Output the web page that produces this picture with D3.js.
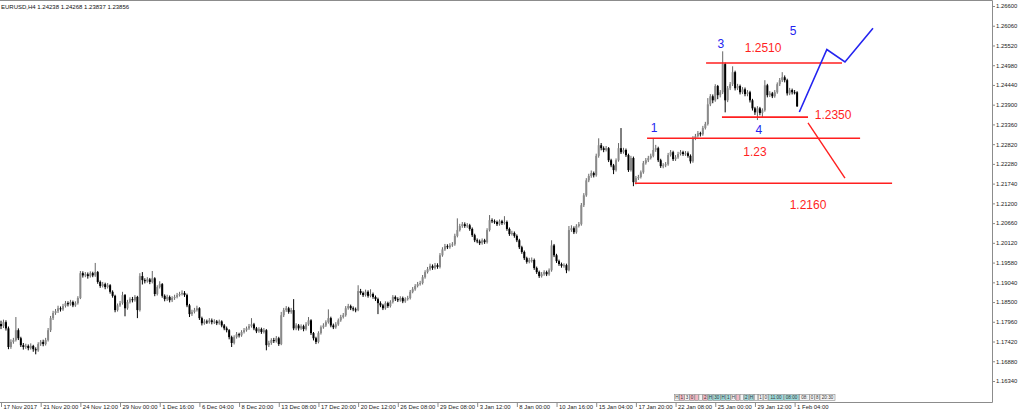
<!DOCTYPE html>
<html>
<head>
<meta charset="utf-8">
<script src="https://cdn.jsdelivr.net/npm/d3@7"></script>
<style>
  html, body { margin: 0; padding: 0; background: #fff; }
  svg { display: block; font-family: 'Liberation Sans', Arial, sans-serif; }
</style>
</head>
<body>
<div id="chart"></div>
<script>
// EURUSD H4 candles, 17 Nov 2017 04:00 .. 1 Feb 2018 08:00
var symbol = 'EURUSD,H4'
var lastQuote = [1.24238, 1.24268, 1.23837, 1.23856]
var firstOpen = 1.1790

var closes = [
  1.1784,1.1795,1.1778,1.1727,1.1741,1.1746,1.1773,1.1751,1.1732,1.1727,
  1.1730,1.1724,1.1730,1.1721,1.1718,1.1735,1.1741,1.1735,1.1746,1.1773,
  1.1806,1.1820,1.1825,1.1833,1.1830,1.1839,1.1847,1.1844,1.1850,1.1841,
  1.1847,1.1861,1.1929,1.1923,1.1926,1.1921,1.1929,1.1923,1.1932,1.1905,
  1.1894,1.1899,1.1891,1.1896,1.1878,1.1867,1.1828,1.1841,1.1847,1.1869,
  1.1833,1.1850,1.1858,1.1855,1.1864,1.1828,1.1921,1.1910,1.1907,1.1912,
  1.1905,1.1915,1.1872,1.1891,1.1899,1.1867,1.1858,1.1864,1.1855,1.1861,
  1.1864,1.1869,1.1872,1.1875,1.1869,1.1841,1.1817,1.1823,1.1828,1.1833,
  1.1806,1.1792,1.1797,1.1795,1.1800,1.1795,1.1797,1.1792,1.1797,1.1786,
  1.1778,1.1773,1.1754,1.1738,1.1754,1.1762,1.1759,1.1768,1.1773,1.1778,
  1.1784,1.1789,1.1778,1.1770,1.1776,1.1768,1.1773,1.1732,1.1738,1.1746,
  1.1743,1.1751,1.1735,1.1814,1.1828,1.1833,1.1823,1.1828,1.1778,1.1786,
  1.1778,1.1784,1.1776,1.1789,1.1800,1.1765,1.1751,1.1741,1.1765,1.1781,
  1.1786,1.1795,1.1806,1.1786,1.1781,1.1789,1.1800,1.1809,1.1814,1.1833,
  1.1839,1.1833,1.1830,1.1828,1.1880,1.1875,1.1869,1.1878,1.1867,1.1872,
  1.1864,1.1858,1.1847,1.1841,1.1833,1.1847,1.1839,1.1850,1.1864,1.1858,
  1.1855,1.1861,1.1852,1.1858,1.1861,1.1878,1.1885,1.1894,1.1899,1.1902,
  1.1918,1.1932,1.1940,1.1949,1.1943,1.1951,1.1946,1.1978,1.1994,1.2003,
  1.2000,1.2005,1.2008,1.2031,1.2047,1.2058,1.2063,1.2058,1.2060,1.2050,
  1.2033,1.2019,1.2016,1.2011,1.2019,1.2014,1.2047,1.2074,1.2071,1.2069,
  1.2063,1.2071,1.2066,1.2069,1.2050,1.2036,1.2039,1.2031,1.2019,1.2000,
  1.1987,1.1970,1.1960,1.1965,1.1965,1.1943,1.1932,1.1921,1.1926,1.1932,
  1.1926,1.1937,1.2005,1.1978,1.1962,1.1954,1.1949,1.1951,1.1937,1.2047,
  1.2052,1.2041,1.2058,1.2063,1.2115,1.2142,1.2183,1.2195,1.2203,1.2197,
  1.2250,1.2279,1.2271,1.2266,1.2271,1.2238,1.2224,1.2211,1.2238,1.2271,
  1.2260,1.2266,1.2252,1.2211,1.2244,1.2178,1.2189,1.2192,1.2205,1.2230,
  1.2238,1.2244,1.2250,1.2266,1.2271,1.2238,1.2222,1.2224,1.2227,1.2252,
  1.2260,1.2241,1.2246,1.2255,1.2260,1.2255,1.2257,1.2250,1.2235,1.2298,
  1.2304,1.2312,1.2309,1.2326,1.2337,1.2391,1.2413,1.2402,1.2441,1.2416,
  1.2424,1.2501,1.2402,1.2435,1.2446,1.2479,1.2435,1.2441,1.2424,1.2432,
  1.2419,1.2424,1.2402,1.2380,1.2369,1.2380,1.2367,1.2375,1.2443,1.2416,
  1.2421,1.2413,1.2424,1.2446,1.2457,1.2465,1.2457,1.2421,1.2430,1.2424,
  1.24238,1.23856
]

var highs = [
  1.1799,1.1802,1.1800,1.1783,1.1748,1.1752,1.1809,1.1778,1.1755,1.1738,
  1.1736,1.1734,1.1737,1.1733,1.1726,1.1740,1.1746,1.1747,1.1752,1.1779,
  1.1812,1.1826,1.1831,1.1840,1.1838,1.1845,1.1853,1.1852,1.1856,1.1854,
  1.1852,1.1866,1.1935,1.1934,1.1932,1.1931,1.1934,1.1933,1.1957,1.1935,
  1.1909,1.1905,1.1903,1.1902,1.1899,1.1882,1.1870,1.1846,1.1853,1.1878,
  1.1872,1.1856,1.1863,1.1864,1.1869,1.1867,1.1929,1.1932,1.1915,1.1918,
  1.1916,1.1935,1.1918,1.1896,1.1907,1.1902,1.1871,1.1870,1.1868,1.1866,
  1.1870,1.1875,1.1878,1.1882,1.1880,1.1873,1.1845,1.1829,1.1834,1.1840,
  1.1836,1.1810,1.1803,1.1802,1.1806,1.1805,1.1803,1.1801,1.1802,1.1800,
  1.1790,1.1783,1.1776,1.1758,1.1759,1.1768,1.1766,1.1773,1.1779,1.1783,
  1.1790,1.1806,1.1793,1.1782,1.1781,1.1780,1.1779,1.1776,1.1744,1.1751,
  1.1752,1.1757,1.1755,1.1823,1.1834,1.1839,1.1837,1.1834,1.1858,1.1792,
  1.1790,1.1789,1.1788,1.1795,1.1809,1.1803,1.1768,1.1755,1.1770,1.1786,
  1.1792,1.1800,1.1830,1.1810,1.1791,1.1795,1.1805,1.1815,1.1820,1.1839,
  1.1845,1.1843,1.1838,1.1835,1.1896,1.1886,1.1879,1.1884,1.1882,1.1885,
  1.1876,1.1868,1.1862,1.1852,1.1845,1.1852,1.1851,1.1855,1.1869,1.1868,
  1.1863,1.1866,1.1865,1.1863,1.1867,1.1883,1.1891,1.1899,1.1905,1.1908,
  1.1924,1.1937,1.1946,1.1955,1.1953,1.1957,1.1956,1.1984,1.2000,1.2009,
  1.2008,1.2011,1.2014,1.2037,1.2079,1.2064,1.2069,1.2068,1.2066,1.2064,
  1.2054,1.2037,1.2024,1.2021,1.2024,1.2023,1.2052,1.2088,1.2079,1.2076,
  1.2073,1.2076,1.2075,1.2085,1.2073,1.2054,1.2045,1.2043,1.2035,1.2023,
  1.2004,1.1991,1.1974,1.1971,1.1972,1.1969,1.1947,1.1936,1.1932,1.1937,
  1.1936,1.1942,1.2019,1.2009,1.1982,1.1966,1.1958,1.1956,1.1955,1.2058,
  1.2060,1.2057,1.2063,1.2069,1.2121,1.2148,1.2189,1.2201,1.2210,1.2207,
  1.2256,1.2298,1.2285,1.2276,1.2277,1.2274,1.2242,1.2228,1.2243,1.2285,
  1.2326,1.2272,1.2270,1.2256,1.2250,1.2248,1.2195,1.2198,1.2210,1.2236,
  1.2244,1.2250,1.2256,1.2298,1.2280,1.2275,1.2242,1.2230,1.2233,1.2258,
  1.2266,1.2264,1.2252,1.2261,1.2266,1.2264,1.2263,1.2262,1.2254,1.2304,
  1.2310,1.2318,1.2316,1.2332,1.2343,1.2408,1.2419,1.2418,1.2446,1.2444,
  1.2430,1.2536,1.2505,1.2441,1.2452,1.2495,1.2483,1.2447,1.2445,1.2438,
  1.2437,1.2430,1.2428,1.2406,1.2384,1.2386,1.2384,1.2380,1.2457,1.2447,
  1.2427,1.2425,1.2430,1.2451,1.2463,1.2479,1.2470,1.2461,1.2436,1.2434,
  1.2430,1.24268
]

var lows = [
  1.1776,1.1779,1.1772,1.1721,1.1722,1.1736,1.1742,1.1746,1.1727,1.1720,
  1.1722,1.1718,1.1720,1.1714,1.1707,1.1714,1.1730,1.1729,1.1731,1.1742,
  1.1768,1.1801,1.1815,1.1820,1.1824,1.1826,1.1835,1.1838,1.1840,1.1836,
  1.1837,1.1843,1.1858,1.1917,1.1918,1.1914,1.1917,1.1918,1.1919,1.1900,
  1.1889,1.1890,1.1885,1.1887,1.1873,1.1862,1.1822,1.1824,1.1837,1.1843,
  1.1811,1.1829,1.1846,1.1849,1.1851,1.1806,1.1824,1.1898,1.1901,1.1903,
  1.1899,1.1901,1.1866,1.1868,1.1887,1.1862,1.1852,1.1853,1.1849,1.1850,
  1.1856,1.1860,1.1865,1.1868,1.1864,1.1836,1.1809,1.1812,1.1819,1.1824,
  1.1801,1.1786,1.1788,1.1790,1.1791,1.1789,1.1790,1.1787,1.1788,1.1781,
  1.1773,1.1767,1.1748,1.1727,1.1734,1.1750,1.1753,1.1755,1.1764,1.1769,
  1.1774,1.1780,1.1773,1.1765,1.1766,1.1763,1.1764,1.1718,1.1727,1.1733,
  1.1738,1.1739,1.1730,1.1732,1.1809,1.1823,1.1818,1.1818,1.1773,1.1773,
  1.1772,1.1774,1.1770,1.1772,1.1785,1.1760,1.1745,1.1735,1.1737,1.1761,
  1.1777,1.1782,1.1791,1.1781,1.1776,1.1777,1.1785,1.1796,1.1805,1.1810,
  1.1829,1.1828,1.1825,1.1822,1.1825,1.1870,1.1864,1.1865,1.1862,1.1863,
  1.1859,1.1853,1.1817,1.1836,1.1828,1.1829,1.1834,1.1835,1.1846,1.1853,
  1.1850,1.1851,1.1847,1.1848,1.1854,1.1857,1.1874,1.1881,1.1890,1.1895,
  1.1898,1.1914,1.1928,1.1936,1.1938,1.1939,1.1941,1.1942,1.1974,1.1990,
  1.1995,1.1996,1.2001,1.2004,1.2027,1.2043,1.2053,1.2053,1.2053,1.2045,
  1.2028,1.2014,1.2011,1.2006,1.2007,1.2009,1.2010,1.2043,1.2066,1.2064,
  1.2058,1.2059,1.2061,1.2062,1.2045,1.2031,1.2032,1.2026,1.2014,1.1995,
  1.1982,1.1965,1.1955,1.1956,1.1958,1.1938,1.1927,1.1916,1.1917,1.1922,
  1.1921,1.1922,1.1933,1.1973,1.1957,1.1949,1.1944,1.1944,1.1929,1.1934,
  1.2042,1.2036,1.2037,1.2054,1.2059,1.2110,1.2138,1.2178,1.2190,1.2191,
  1.2193,1.2245,1.2265,1.2260,1.2262,1.2233,1.2219,1.2200,1.2207,1.2234,
  1.2255,1.2256,1.2247,1.2206,1.2207,1.2167,1.2172,1.2184,1.2188,1.2201,
  1.2226,1.2233,1.2240,1.2246,1.2261,1.2233,1.2217,1.2216,1.2219,1.2223,
  1.2248,1.2236,1.2236,1.2242,1.2251,1.2250,1.2250,1.2245,1.2229,1.2231,
  1.2293,1.2300,1.2303,1.2305,1.2322,1.2333,1.2386,1.2394,1.2398,1.2405,
  1.2410,1.2419,1.2369,1.2397,1.2430,1.2441,1.2429,1.2430,1.2418,1.2419,
  1.2413,1.2413,1.2396,1.2374,1.2362,1.2348,1.2361,1.2356,1.2371,1.2410,
  1.2411,1.2408,1.2409,1.2420,1.2441,1.2452,1.2451,1.2415,1.2416,1.2418,
  1.2418,1.23837
]

// one date label every 16 bars
var dateLabels = ['17 Nov 2017', '21 Nov 20:00', '24 Nov 12:00', '29 Nov 00:00', '1 Dec 16:00',
  '6 Dec 04:00', '8 Dec 20:00', '13 Dec 08:00', '17 Dec 20:00', '20 Dec 12:00', '26 Dec 08:00',
  '29 Dec 08:00', '3 Jan 12:00', '8 Jan 00:00', '10 Jan 16:00', '15 Jan 04:00', '17 Jan 20:00',
  '22 Jan 08:00', '25 Jan 00:00', '29 Jan 12:00', '1 Feb 04:00']
var priceTicks = [1.26600, 1.26060, 1.25520, 1.24980, 1.24440, 1.23900, 1.23360, 1.22820, 1.22280,
  1.21740, 1.21200, 1.20660, 1.20120, 1.19580, 1.19040, 1.18500, 1.17960, 1.17420, 1.16880, 1.16340]

// drawn objects: horizontal levels (price, from bar, to bar)
var levelPrices = [1.2504, 1.2356, 1.2298, 1.2175]
var levelFrom = [284.3, 290.7, 260.5, 255.6]
var levelTo = [339.1, 325.4, 346.4, 359.3]
var levelTexts = ['1.2510', '1.2350', '1.23', '1.2160']
var levelTextAt = [[307.3, 1.2545], [335.5, 1.2361], [304, 1.2260], [325.4, 1.2115]]
// wave count
var waveTexts = ['1', '3', '4', '5']
var waveAt = [[263.3, 1.2326], [290.3, 1.2556], [305.6, 1.2320], [319.4, 1.2591]]
var bullPath = [[321.9, 1.2370], [333, 1.2541], [340.3, 1.2507], [351.6, 1.2599]]
var bearPath = [[325.4, 1.2340], [340.3, 1.2189]]
// period separator boxes near the bottom
var sepTexts = ['H', '1', '3', '0', '', '', '2', 'H', '30', 'H', '1', 'H', '', '', '2', 'H', '', '1', '0',
  '11:00', '08:00', '08:', '0', '8', '20:30']
var sepKinds = ['w', 'p', 'w', 'p', 'p', 'w', 'p', 't', 't', 't', 't', 'w', 'p', 'w', 't', 't', 'w', 'w',
  'w', 't', 't', 'w', 'w', 'w', 'w']

var width = 1024
var height = 415
var plotRight = 992
var plotBottom = 402
var axisFont = '5.9px'

var x = d3.scaleLinear().domain([0, 321]).range([1, 797.1])
var y = d3.scaleLinear().domain([1.1634, 1.2660]).range([381, 6])

var opens = closes.map(function (c, i) { return i ? closes[i - 1] : firstOpen })

var svg = d3.select('#chart').append('svg')
  .attr('width', width)
  .attr('height', height)

// frame
svg.append('path')
  .attr('d', 'M0,0.5H' + (plotRight + 0.5) + 'V' + (plotBottom + 0.5) + 'H0')
  .attr('fill', 'none')
  .attr('stroke', '#8c8c8c')
  .attr('stroke-width', 1)

// candles
var bars = svg.append('g').attr('class', 'bars')
  .selectAll('g').data(closes).enter().append('g')

bars.append('line')
  .attr('x1', function (d, i) { return x(i) })
  .attr('x2', function (d, i) { return x(i) })
  .attr('y1', function (d, i) { return y(highs[i]) })
  .attr('y2', function (d, i) { return y(lows[i]) })
  .attr('stroke', function (d, i) { return d >= opens[i] ? '#666' : '#000' })
  .attr('stroke-width', 1)

bars.append('rect')
  .attr('x', function (d, i) { return x(i) - 1 })
  .attr('width', 2)
  .attr('y', function (d, i) { return y(Math.max(d, opens[i])) })
  .attr('height', function (d, i) { return Math.max(1, Math.abs(y(d) - y(opens[i]))) })
  .attr('fill', function (d, i) { return d >= opens[i] ? '#8a8a8a' : '#000' })

// price axis
var yAxis = svg.append('g')
  .attr('transform', 'translate(' + plotRight + ',0)')
  .call(d3.axisRight(y).tickValues(priceTicks).tickSize(3).tickPadding(1)
    .tickFormat(d3.format('.5f')))
yAxis.select('.domain').remove()
yAxis.selectAll('line').attr('stroke', '#8c8c8c')
yAxis.selectAll('text').attr('font-size', axisFont).attr('fill', '#222')
  .attr('font-family', 'Liberation Sans, Arial, sans-serif')

// time axis
var xAxis = svg.append('g')
  .attr('transform', 'translate(0,' + plotBottom + ')')
  .call(d3.axisBottom(x).tickValues(d3.range(dateLabels.length).map(function (k) { return k * 16 }))
    .tickSize(5)
    .tickFormat(function (d, i) { return dateLabels[i] }))
xAxis.select('.domain').remove()
xAxis.selectAll('line').attr('stroke', '#8c8c8c')
xAxis.selectAll('text')
  .attr('text-anchor', 'start')
  .attr('x', 2)
  .attr('y', 3)
  .attr('font-size', axisFont)
  .attr('fill', '#222')
  .attr('font-family', 'Liberation Sans, Arial, sans-serif')

// symbol header
svg.append('text')
  .attr('x', 1)
  .attr('y', 8.5)
  .attr('font-size', '6px')
  .attr('fill', '#111')
  .text(symbol + '  ' + lastQuote.map(d3.format('.5f')).join(' '))

// levels
var red = '#ff1f1f'
var blue = '#2424f0'
svg.append('g').selectAll('line').data(levelPrices).enter().append('line')
  .attr('x1', function (d, i) { return x(levelFrom[i]) })
  .attr('x2', function (d, i) { return x(levelTo[i]) })
  .attr('y1', function (d) { return y(d) })
  .attr('y2', function (d) { return y(d) })
  .attr('stroke', red)
  .attr('stroke-width', 1.6)

svg.append('g').selectAll('text').data(levelTexts).enter().append('text')
  .attr('x', function (d, i) { return x(levelTextAt[i][0]) })
  .attr('y', function (d, i) { return y(levelTextAt[i][1]) })
  .attr('text-anchor', 'middle')
  .attr('dominant-baseline', 'central')
  .attr('font-size', '12px')
  .attr('fill', red)
  .text(function (d) { return d })

var line = d3.line()
  .x(function (d) { return x(d[0]) })
  .y(function (d) { return y(d[1]) })

svg.append('path')
  .attr('d', line(bearPath))
  .attr('fill', 'none')
  .attr('stroke', red)
  .attr('stroke-width', 1.4)

svg.append('path')
  .attr('d', line(bullPath))
  .attr('fill', 'none')
  .attr('stroke', blue)
  .attr('stroke-width', 1.6)

svg.append('g').selectAll('text').data(waveTexts).enter().append('text')
  .attr('x', function (d, i) { return x(waveAt[i][0]) })
  .attr('y', function (d, i) { return y(waveAt[i][1]) })
  .attr('text-anchor', 'middle')
  .attr('dominant-baseline', 'central')
  .attr('font-size', '12px')
  .attr('fill', blue)
  .text(function (d) { return d })

// separator boxes
var sepFill = { w: '#f4f4f4', p: '#f2b8c4', t: '#9fdada' }
var sepX = 674
var sep = svg.append('g').attr('transform', 'translate(0,' + (plotBottom - 8) + ')')
sepTexts.forEach(function (t, i) {
  var w = Math.max(3.5, t.length * 2.6 + 2)
  sep.append('rect')
    .attr('x', sepX + 0.5)
    .attr('y', 0.5)
    .attr('width', w)
    .attr('height', 6)
    .attr('fill', sepFill[sepKinds[i]])
    .attr('stroke', '#8a8a8a')
    .attr('stroke-width', 0.6)
  sep.append('text')
    .attr('x', sepX + 0.5 + w / 2)
    .attr('y', 5.3)
    .attr('text-anchor', 'middle')
    .attr('font-size', '4.6px')
    .attr('fill', '#333')
    .text(t)
  sepX += w + 0.5
})
</script>
</body>
</html>
